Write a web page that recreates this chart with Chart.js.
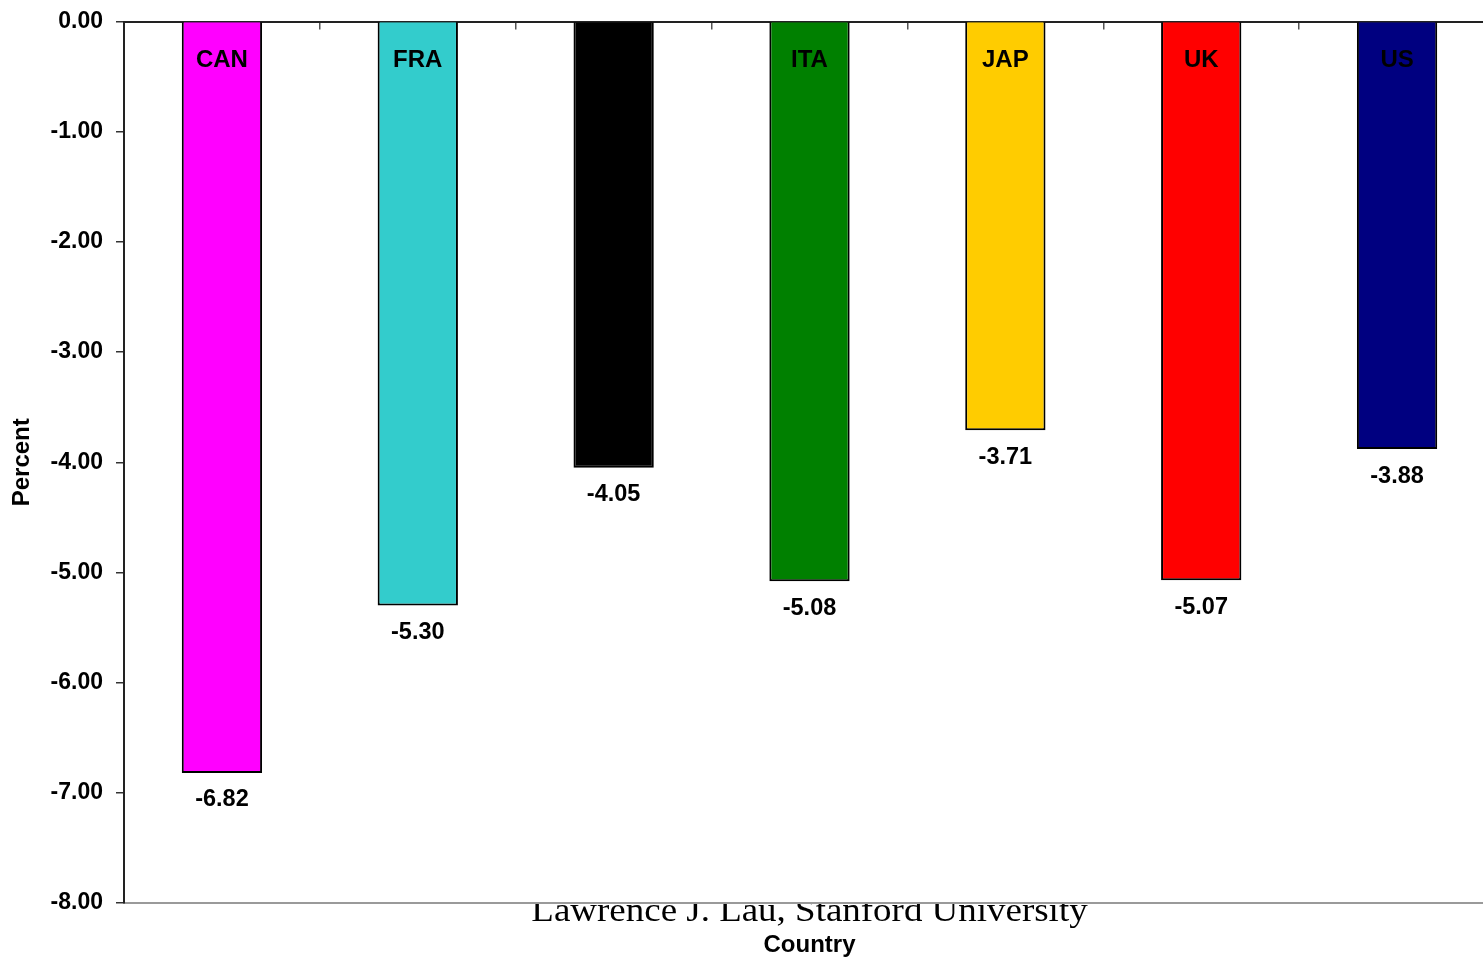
<!DOCTYPE html>
<html>
<head>
<meta charset="utf-8">
<script src="https://cdn.jsdelivr.net/npm/chart.js@4/dist/chart.umd.min.js"></script>
<style>
  html, body { margin: 0; padding: 0; background: #fff; overflow: hidden; }
  #wrap { width: 1500px; height: 958px; }
</style>
</head>
<body>
<div id="wrap"><canvas id="chart" width="1500" height="958"></canvas></div>
<script>
// Country codes (each name is printed at the top of its own bar)
const countries = ['CAN', 'FRA', 'GER', 'ITA', 'JAP', 'UK', 'US'];
// Change, in percent
const values = [-6.82, -5.30, -4.05, -5.08, -3.71, -5.07, -3.88];
// Bar fill per country
const barColors = ['#FF00FF', '#33CCCC', '#000000', '#008000', '#FFCC00', '#FF0000', '#000080'];
// Value axis range and step
const yMin = -8;
const yMax = 0;
const yStep = 1;
const footerText = 'Lawrence J. Lau, Stanford University';

const FONT = "'Liberation Sans', Arial, sans-serif";

// Footer line sits behind the plot area; the white plot fill hides its top.
const footerPlugin = {
  id: 'footerBehindPlot',
  beforeDraw(chart) {
    const { ctx, chartArea } = chart;
    ctx.save();
    ctx.fillStyle = '#000';
    ctx.font = "33px 'Liberation Serif', 'Times New Roman', serif";
    ctx.textAlign = 'center';
    ctx.textBaseline = 'alphabetic';
    const cx = (chartArea.left + chartArea.right) / 2;
    ctx.translate(cx, 920.5);
    ctx.scale(1.12, 1);
    ctx.fillText(footerText, 0, 0);
    ctx.restore();
    ctx.save();
    ctx.fillStyle = '#fff';
    ctx.fillRect(chartArea.left, chartArea.top, chartArea.right - chartArea.left, chartArea.bottom - chartArea.top);
    ctx.restore();
  }
};

// Country name inside each bar and the value under each bar
const barLabelPlugin = {
  id: 'barLabels',
  afterDatasetsDraw(chart) {
    const { ctx, chartArea } = chart;
    const meta = chart.getDatasetMeta(0);
    ctx.save();
    ctx.fillStyle = '#000';
    ctx.textAlign = 'center';
    ctx.textBaseline = 'middle';
    meta.data.forEach((bar, i) => {
      ctx.font = "bold 24px " + FONT;
      ctx.fillText(countries[i], bar.x, chartArea.top + 38.5);
      ctx.font = "bold 23.5px " + FONT;
      ctx.fillText(values[i].toFixed(2), bar.x, bar.y + 27);
    });
    ctx.restore();
  }
};

new Chart(document.getElementById('chart'), {
  type: 'bar',
  data: {
    labels: countries,
    datasets: [{
      data: values,
      backgroundColor: barColors,
      borderColor: '#000',
      borderWidth: 2,
      categoryPercentage: 0.41,
      barPercentage: 1,
      xAxisID: 'x',
      yAxisID: 'y'
    }]
  },
  options: {
    responsive: false,
    devicePixelRatio: 1,
    animation: false,
    layout: { padding: { left: 0, right: 5, top: 0, bottom: 0 }, autoPadding: false },
    plugins: {
      legend: { display: false },
      tooltip: { enabled: false },
      title: { display: false }
    },
    scales: {
      x: {
        type: 'category',
        position: 'bottom',
        offset: true,
        grid: { display: false },
        border: { display: true, color: '#9a9a9a', width: 2 },
        ticks: { display: false },
        title: {
          display: true,
          text: 'Country',
          color: '#000',
          font: { family: FONT, size: 24, weight: 'bold', lineHeight: 1 },
          padding: { top: 0, bottom: 1 }
        },
        afterFit(scale) { scale.height = 55; }
      },
      xTop: {
        type: 'category',
        position: 'top',
        offset: true,
        grid: {
          display: true,
          offset: true,
          drawOnChartArea: false,
          drawTicks: true,
          tickLength: -8,
          color: '#555',
          lineWidth: 1.5
        },
        border: { display: true, color: '#222', width: 2 },
        ticks: { display: false },
        afterFit(scale) { scale.height = 21.5; }
      },
      y: {
        type: 'linear',
        position: 'left',
        min: yMin,
        max: yMax,
        ticks: {
          stepSize: yStep,
          color: '#000',
          font: { family: FONT, size: 23, weight: 'bold' },
          padding: 13,
          callback: (v) => Number(v).toFixed(2)
        },
        grid: {
          display: true,
          drawOnChartArea: false,
          drawTicks: true,
          tickLength: 8,
          color: '#333',
          lineWidth: 1.5
        },
        border: { display: true, color: '#222', width: 2 },
        title: {
          display: true,
          text: 'Percent',
          color: '#000',
          font: { family: FONT, size: 24, weight: 'bold', lineHeight: 1 },
          padding: { top: 10, bottom: 0 }
        },
        afterFit(scale) {
          scale.width = 124;
          scale.paddingTop = 0;
          scale.paddingBottom = 0;
        }
      }
    }
  },
  plugins: [footerPlugin, barLabelPlugin]
});
</script>
</body>
</html>
